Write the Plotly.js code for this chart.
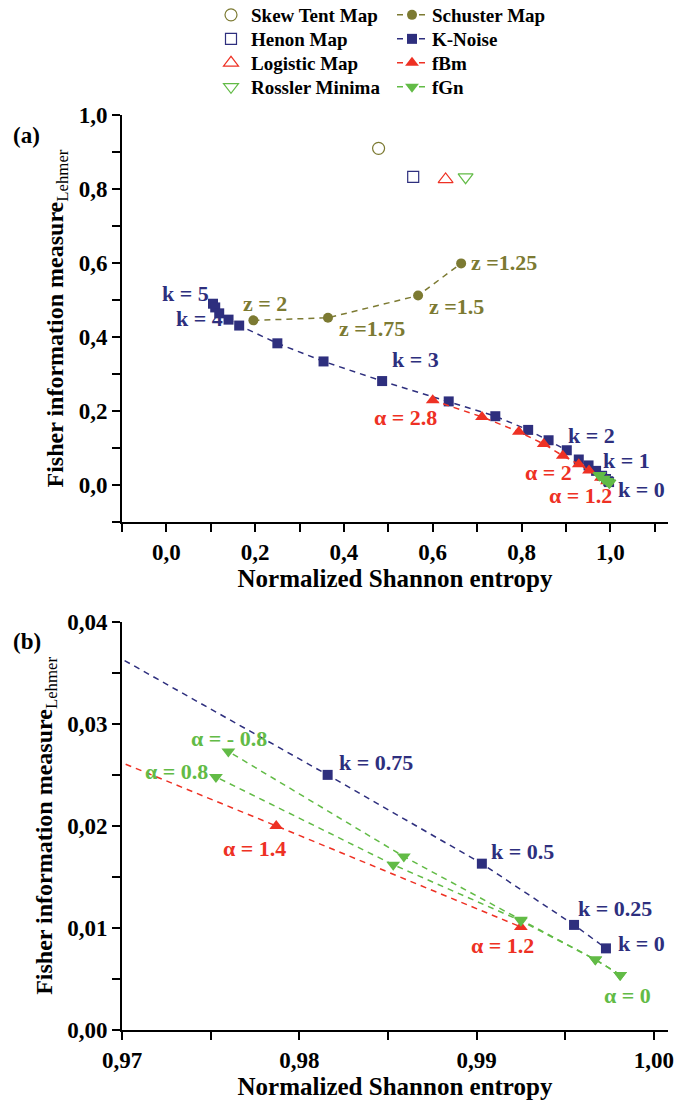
<!DOCTYPE html>
<html>
<head>
<meta charset="utf-8">
<script src="https://cdn.plot.ly/plotly-3.0.1.min.js"></script>
<style>html,body{margin:0;padding:0;background:#fff;}#chart{width:684px;height:1106px;}</style>
</head>
<body>
<div id="chart"></div>
<script>
// ---- data ----
var kValues = [5, 4.75, 4.5, 4.25, 4, 3.75, 3.5, 3, 2.75, 2.5, 2.25, 2, 1.75, 1.5, 1.25, 1, 0.75, 0.5, 0.25, 0];
var kNoiseH = [0.105, 0.110, 0.119, 0.140, 0.164, 0.250, 0.354, 0.486, 0.636, 0.741, 0.815, 0.861, 0.902, 0.929, 0.951, 0.968, 0.9816, 0.9903, 0.9955, 0.9973];
var kNoiseF = [0.490, 0.480, 0.464, 0.447, 0.431, 0.383, 0.334, 0.281, 0.226, 0.186, 0.149, 0.121, 0.094, 0.069, 0.053, 0.0383, 0.0250, 0.0163, 0.0103, 0.0080];

var fbmAlpha = [2.8, 2.6, 2.4, 2.2, 2.0, 1.8, 1.6, 1.4, 1.2];
var fbmH = [0.600, 0.711, 0.794, 0.850, 0.893, 0.929, 0.952, 0.9787, 0.9925];
var fbmF = [0.229, 0.184, 0.144, 0.111, 0.079, 0.056, 0.039, 0.0200, 0.0101];

var fgnAlpha = [-0.8, -0.6, -0.4, -0.2, 0, 0.2, 0.4, 0.6, 0.8];
var fgnH = [0.9760, 0.9859, 0.9925, 0.9967, 0.9981, 0.9967, 0.9925, 0.9853, 0.9753];
var fgnF = [0.0273, 0.0170, 0.0108, 0.0069, 0.0054, 0.0069, 0.0107, 0.0162, 0.0248];

var schusterZ = [2, 1.75, 1.5, 1.25];
var schusterH = [0.196, 0.364, 0.567, 0.664];
var schusterF = [0.445, 0.452, 0.512, 0.599];

var mapNames = ['Skew Tent Map', 'Henon Map', 'Logistic Map', 'Rossler Minima'];
var mapH = [0.478, 0.556, 0.629, 0.674];
var mapF = [0.910, 0.833, 0.826, 0.832];

var xTitle = 'Normalized Shannon entropy';
var yTitle = 'Fisher information measure<sub><span style="font-weight:normal">Lehmer</span></sub>';

// ---- styles ----
var NAVY = '#2e2f7e', OLIVE = '#7c7a32', RED = '#ee3124', GREEN = '#62bb46';
var mapColors = [OLIVE, NAVY, RED, GREEN];
var mapSymbols = ['circle-open', 'square-open', 'triangle-up-open', 'triangle-down-open'];
var mapSizes = [12, 11, 13, 13];
var DASH = '6px,5px';
var FONT = 'Liberation Serif, Times New Roman, serif';
var H = 1106;
var rowY = [15, 39, 63, 87];

var traces = [];
for (var i = 0; i < mapNames.length; i++) {
  traces.push({
    type: 'scatter', mode: 'markers', name: mapNames[i], legend: i === 0 ? 'legend' : 'legend' + (i + 1),
    x: [mapH[i]], y: [mapF[i]], xaxis: 'x', yaxis: 'y',
    marker: {symbol: mapSymbols[i], size: mapSizes[i], color: mapColors[i], line: {width: 1.2, color: mapColors[i]}},
    hoverinfo: 'skip'
  });
}
function series(name, xs, ys, color, symbol, size, xa, ya, leg) {
  return {
    type: 'scatter', mode: 'lines+markers', name: name, legend: leg || 'legend', showlegend: !!leg,
    x: xs, y: ys, xaxis: xa, yaxis: ya,
    line: {color: color, width: 1.5, dash: DASH},
    marker: {symbol: symbol, size: size, color: color},
    hoverinfo: 'skip'
  };
}
// fGn split into two branches that both start at alpha = 0 so overlapping dashes coincide
var zeroIdx = fgnAlpha.indexOf(0);
var negIdx = [], posIdx = [];
for (var j = zeroIdx; j >= 0; j--) negIdx.push(j);
for (var j2 = zeroIdx; j2 < fgnAlpha.length; j2++) posIdx.push(j2);
function pick(arr, idx) { return idx.map(function (q) { return arr[q]; }); }

traces.push(series('Schuster Map', schusterH, schusterF, OLIVE, 'circle', 10, 'x', 'y', 'legend5'));
traces.push(series('K-Noise', kNoiseH, kNoiseF, NAVY, 'square', 10, 'x', 'y', 'legend6'));
traces.push(series('fBm', fbmH, fbmF, RED, 'triangle-up', 12, 'x', 'y', 'legend7'));
traces.push(series('fGn', pick(fgnH, negIdx), pick(fgnF, negIdx), GREEN, 'triangle-down', 12, 'x', 'y', 'legend8'));
traces.push(series('fGn', pick(fgnH, posIdx), pick(fgnF, posIdx), GREEN, 'triangle-down', 12, 'x', 'y', null));
// panel (b)
traces.push(series('K-Noise', kNoiseH, kNoiseF, NAVY, 'square', 10, 'x3', 'y3', null));
traces.push(series('fBm', fbmH, fbmF, RED, 'triangle-up', 12, 'x3', 'y3', null));
traces.push(series('fGn', pick(fgnH, negIdx), pick(fgnF, negIdx), GREEN, 'triangle-down', 12, 'x3', 'y3', null));
traces.push(series('fGn', pick(fgnH, posIdx), pick(fgnF, posIdx), GREEN, 'triangle-down', 12, 'x3', 'y3', null));

var tickFont = {family: FONT, size: 23, color: '#000', weight: 'bold'};
var titleFont = {family: FONT, size: 25, color: '#000', weight: 'bold'};
var yTitleFont = {family: FONT, size: 24, color: '#000', weight: 'bold'};

function mainAxis(opts) {
  var a = {
    showline: true, linewidth: 2, linecolor: '#000', mirror: false,
    ticks: 'outside', ticklen: 8, tickwidth: 2, tickcolor: '#000',
    showgrid: false, zeroline: false, tickfont: tickFont
  };
  for (var k in opts) a[k] = opts[k];
  return a;
}
function mirrorAxis(opts) {
  var a = {
    showline: true, linewidth: 2, linecolor: '#000',
    ticks: 'inside', ticklen: 8, tickwidth: 2, tickcolor: '#000',
    showgrid: false, zeroline: false, showticklabels: false
  };
  for (var k in opts) a[k] = opts[k];
  return a;
}
function minor(d, t0) {
  return {dtick: d, tick0: t0, ticks: 'outside', ticklen: 8, tickwidth: 2, tickcolor: '#000', showgrid: false};
}

var xrA = [-0.1, 1.13], yrA = [-0.1, 1.0];
var xrB = [0.97, 1.0008], yrB = [0, 0.04];
var domA = [0.528, 0.896], domB = [0.0687, 0.4378];

var layout = {
  width: 684, height: H,
  margin: {l: 122, r: 16, t: 0, b: 0, autoexpand: false},
  paper_bgcolor: '#fff', plot_bgcolor: '#fff',
  separators: ', ',
  font: {family: FONT, size: 21, color: '#000', weight: 'bold'},
  showlegend: true,
  xaxis: mainAxis({domain: [0, 1], range: xrA, anchor: 'y', dtick: 0.2, tick0: 0, tickformat: '.1f',
    minor: minor(0.1, 0), title: {text: xTitle, font: titleFont, standoff: 6}}),
  yaxis: mainAxis({domain: domA, range: yrA, anchor: 'x', dtick: 0.2, tick0: 0, tickformat: '.1f',
    minor: minor(0.1, 0), title: {text: yTitle, font: yTitleFont, standoff: 8}}),
  xaxis2: mirrorAxis({overlaying: 'x', side: 'top', anchor: 'y', range: xrA, dtick: 0.1, tick0: 0}),
  yaxis2: mirrorAxis({overlaying: 'y', side: 'right', anchor: 'x', range: yrA, dtick: 0.1, tick0: 0}),
  xaxis3: mainAxis({domain: [0, 1], range: xrB, anchor: 'y3', dtick: 0.01, tick0: 0.97, tickformat: '.2f',
    minor: minor(0.005, 0.97), title: {text: xTitle, font: titleFont, standoff: 5}}),
  yaxis3: mainAxis({domain: domB, range: yrB, anchor: 'x3', dtick: 0.01, tick0: 0, tickformat: '.2f',
    minor: minor(0.005, 0), title: {text: yTitle, font: yTitleFont, standoff: 8}}),
  xaxis4: mirrorAxis({overlaying: 'x3', side: 'top', anchor: 'y3', range: xrB, dtick: 0.005, tick0: 0.97}),
  yaxis4: mirrorAxis({overlaying: 'y3', side: 'right', anchor: 'x3', range: yrB, dtick: 0.005, tick0: 0}),
  annotations: []
};

// legends: one per row/column so the rows can sit as tight as in the reference
var legFont = {family: FONT, size: 19, color: '#000', weight: 'bold'};
var colX = [(211 - 122) / 546, (392 - 122) / 546];
for (var r = 0; r < 8; r++) {
  var key = r === 0 ? 'legend' : 'legend' + (r + 1);
  layout[key] = {x: colX[Math.floor(r / 4)], xanchor: 'left', y: 1 - rowY[r % 4] / H, yanchor: 'middle',
    bgcolor: 'rgba(0,0,0,0)', font: legFont, tracegroupgap: 0};
}

function lab(text, x, y, color, xr, yr) {
  layout.annotations.push({text: text, x: x, y: y, xref: xr, yref: yr, showarrow: false,
    xanchor: 'center', yanchor: 'middle',
    font: {family: FONT, size: 22, color: color, weight: 'bold'}});
}
// panel (a) labels
lab('k = 5', 0.043, 0.518, NAVY, 'x', 'y');
lab('k = 4', 0.074, 0.450, NAVY, 'x', 'y');
lab('z = 2', 0.223, 0.491, OLIVE, 'x', 'y');
lab('z =1.75', 0.464, 0.423, OLIVE, 'x', 'y');
lab('z =1.5', 0.653, 0.482, OLIVE, 'x', 'y');
lab('z =1.25', 0.760, 0.601, OLIVE, 'x', 'y');
lab('k = 3', 0.561, 0.340, NAVY, 'x', 'y');
lab('α = 2.8', 0.538, 0.183, RED, 'x', 'y');
lab('k = 2', 0.957, 0.135, NAVY, 'x', 'y');
lab('k = 1', 1.036, 0.067, NAVY, 'x', 'y');
lab('α = 2', 0.860, 0.035, RED, 'x', 'y');
lab('α = 1.2', 0.932, -0.027, RED, 'x', 'y');
lab('k = 0', 1.070, -0.013, NAVY, 'x', 'y');
// panel (b) labels
lab('α = - 0.8', 0.97604, 0.0286, GREEN, 'x3', 'y3');
lab('α = 0.8', 0.97310, 0.02537, GREEN, 'x3', 'y3');
lab('k = 0.75', 0.98433, 0.02625, NAVY, 'x3', 'y3');
lab('α = 1.4', 0.97745, 0.01783, RED, 'x3', 'y3');
lab('k = 0.5', 0.99262, 0.01754, NAVY, 'x3', 'y3');
lab('k = 0.25', 0.99781, 0.01195, NAVY, 'x3', 'y3');
lab('α = 1.2', 0.99144, 0.00833, RED, 'x3', 'y3');
lab('k = 0', 0.99928, 0.00852, NAVY, 'x3', 'y3');
lab('α = 0', 0.99854, 0.00343, GREEN, 'x3', 'y3');
// panel letters
layout.annotations.push({text: '(a)', x: -0.174, y: 1 - 135 / H, xref: 'paper', yref: 'paper', showarrow: false,
  xanchor: 'center', yanchor: 'middle', font: {family: FONT, size: 23, color: '#000', weight: 'bold'}});
layout.annotations.push({text: '(b)', x: -0.174, y: 1 - 641 / H, xref: 'paper', yref: 'paper', showarrow: false,
  xanchor: 'center', yanchor: 'middle', font: {family: FONT, size: 23, color: '#000', weight: 'bold'}});

Plotly.newPlot('chart', traces, layout, {staticPlot: true, displayModeBar: false});
</script>
</body>
</html>
